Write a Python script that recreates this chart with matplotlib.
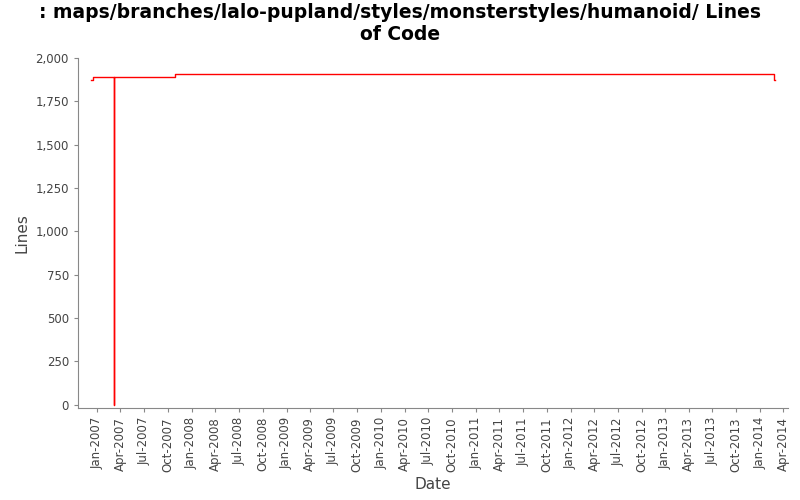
import matplotlib
matplotlib.use("Agg")
from matplotlib import pyplot as plt
import matplotlib.dates as mdates
import matplotlib.ticker as mticker
import numpy as np
import datetime as dt

# data
dates = ["2006-12-09", "2006-12-16", "2007-03-08", "2007-03-09", "2007-10-29", "2014-02-25", "2014-02-26"]
lines = [1875, 1890, 0, 1890, 1910, 1875, 1875]

x = [dt.datetime.strptime(d, "%Y-%m-%d") for d in dates]

fig = plt.figure(figsize=(8, 5), dpi=100)
ax = fig.add_axes([0.0975, 0.184, 0.888, 0.7])
ax.plot(x, lines, drawstyle="steps-post", color="red", linewidth=1)

ax.set_xlim(dt.datetime(2006, 10, 20), dt.datetime(2014, 4, 20))
ax.set_ylim(-20, 2000)
ax.yaxis.set_major_locator(mticker.MultipleLocator(250))
ax.yaxis.set_major_formatter(mticker.FuncFormatter(lambda v, p: "{:,.0f}".format(v)))
ax.xaxis.set_major_locator(mdates.MonthLocator(bymonth=[1, 4, 7, 10]))
ax.xaxis.set_major_formatter(mdates.DateFormatter("%b-%Y"))
plt.setp(ax.get_xticklabels(), rotation=90, fontsize=8.5, color="#444444")
plt.setp(ax.get_yticklabels(), fontsize=8.5, color="#444444")
for s in ["top", "right"]:
    ax.spines[s].set_visible(False)
for s in ["left", "bottom"]:
    ax.spines[s].set_color("#888888")
ax.tick_params(color="#888888", length=3)

ax.set_xlabel("Date", fontsize=11, color="#444444")
ax.set_ylabel("Lines", fontsize=11, color="#444444")
fig.suptitle(": maps/branches/lalo-pupland/styles/monsterstyles/humanoid/ Lines\nof Code",
             fontsize=13.5, fontweight="bold", y=0.995)

plt.savefig("out.png")
